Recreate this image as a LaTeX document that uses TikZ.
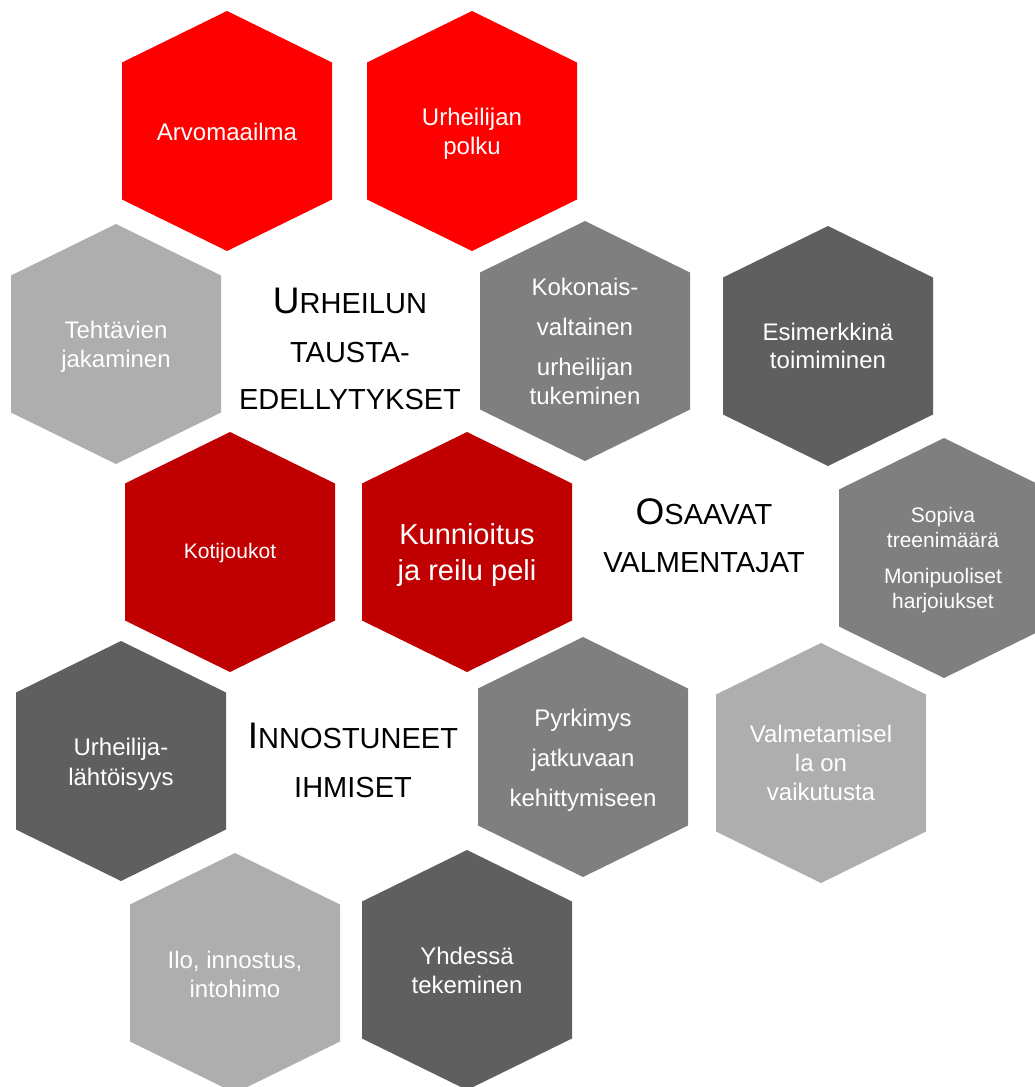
\documentclass[tikz,border=0pt]{standalone}
\usepackage{fontspec}
\setmainfont{Liberation Sans}
\definecolor{redA}{HTML}{FF0000}
\definecolor{redB}{HTML}{C00000}
\definecolor{grayL}{HTML}{AEAEAE}
\definecolor{grayM}{HTML}{7F7F7F}
\definecolor{grayD}{HTML}{5F5F5F}
\newcommand\hexfill[3]{\fill[#3] (#1,#2) +(0,-120) -- +(105,-68.5) -- +(105,68.5) -- +(0,120) -- +(-105,68.5) -- +(-105,-68.5) -- cycle;}
\newcommand\fs[1]{\fontsize{#1}{#1}\selectfont}
\begin{document}
\begin{tikzpicture}[x=1pt,y=-1pt,
  lbl/.style={text=white,anchor=base,inner sep=0pt,font=\fs{24}},
  head/.style={text=black,anchor=base,inner sep=0pt,font=\fs{29}}]
\useasboundingbox (0,0) rectangle (1035,1087);
\clip (0,0) rectangle (1035,1087);
% hexagons
\hexfill{227}{131}{redA}
\hexfill{472}{131}{redA}
\hexfill{116}{344}{grayL}
\hexfill{585}{341}{grayM}
\hexfill{828}{346}{grayD}
\hexfill{230}{552}{redB}
\hexfill{467}{552}{redB}
\hexfill{944}{558}{grayM}
\hexfill{121}{761}{grayD}
\hexfill{583}{757}{grayM}
\hexfill{821}{763}{grayL}
\hexfill{235}{973}{grayL}
\hexfill{467}{970}{grayD}
% hexagon texts
\node[lbl] (arvo) at (227,140) {Arvomaailma};
\node[lbl] (polkuA) at (472,125) {Urheilijan};
\node[lbl] (polkuB) at (472,154) {polku};
\node[lbl] (tehtA) at (116,338) {Tehtävien};
\node[lbl] (tehtB) at (116,367) {jakaminen};
\node[lbl] (kokoA) at (585,295) {Kokonais-};
\node[lbl] (kokoB) at (585,335) {valtainen};
\node[lbl] (kokoC) at (585,375) {urheilijan};
\node[lbl] (kokoD) at (585,404) {tukeminen};
\node[lbl] (esimA) at (828,340) {Esimerkkinä};
\node[lbl] (esimB) at (828,368) {toimiminen};
\node[lbl,font=\fs{21}] (koti) at (230,558) {Kotijoukot};
\node[lbl,font=\fs{29}] (kunA) at (467,544) {Kunnioitus};
\node[lbl,font=\fs{29}] (kunB) at (467,580) {ja reilu peli};
\node[lbl,font=\fs{21}] (sopA) at (943,522) {Sopiva};
\node[lbl,font=\fs{21}] (sopB) at (943,547) {treenimäärä};
\node[lbl,font=\fs{21}] (sopC) at (943,583) {Monipuoliset};
\node[lbl,font=\fs{21}] (sopD) at (943,608) {harjoiukset};
\node[lbl] (urhA) at (121,755) {Urheilija-};
\node[lbl] (urhB) at (121,785) {lähtöisyys};
\node[lbl] (pyrA) at (583,726) {Pyrkimys};
\node[lbl] (pyrB) at (583,766) {jatkuvaan};
\node[lbl] (pyrC) at (583,806) {kehittymiseen};
\node[lbl] (valA) at (821,742) {Valmetamisel};
\node[lbl] (valB) at (821,771) {la on};
\node[lbl] (valC) at (821,800) {vaikutusta};
\node[lbl] (iloA) at (235,968) {Ilo, innostus,};
\node[lbl] (iloB) at (235,997) {intohimo};
\node[lbl] (yhdA) at (467,964) {Yhdessä};
\node[lbl] (yhdB) at (467,993) {tekeminen};
% headings
\node[head] (h1a) at (350,313) {{\fs{37}U}RHEILUN};
\node[head] (h1b) at (350,362) {TAUSTA-};
\node[head] (h1c) at (350,409) {EDELLYTYKSET};
\node[head] (h2a) at (704,524) {{\fs{37}O}SAAVAT};
\node[head] (h2b) at (704,572) {VALMENTAJAT};
\node[head] (h3a) at (353,748) {{\fs{37}I}NNOSTUNEET};
\node[head] (h3b) at (353,797) {IHMISET};
\end{tikzpicture}
\end{document}
